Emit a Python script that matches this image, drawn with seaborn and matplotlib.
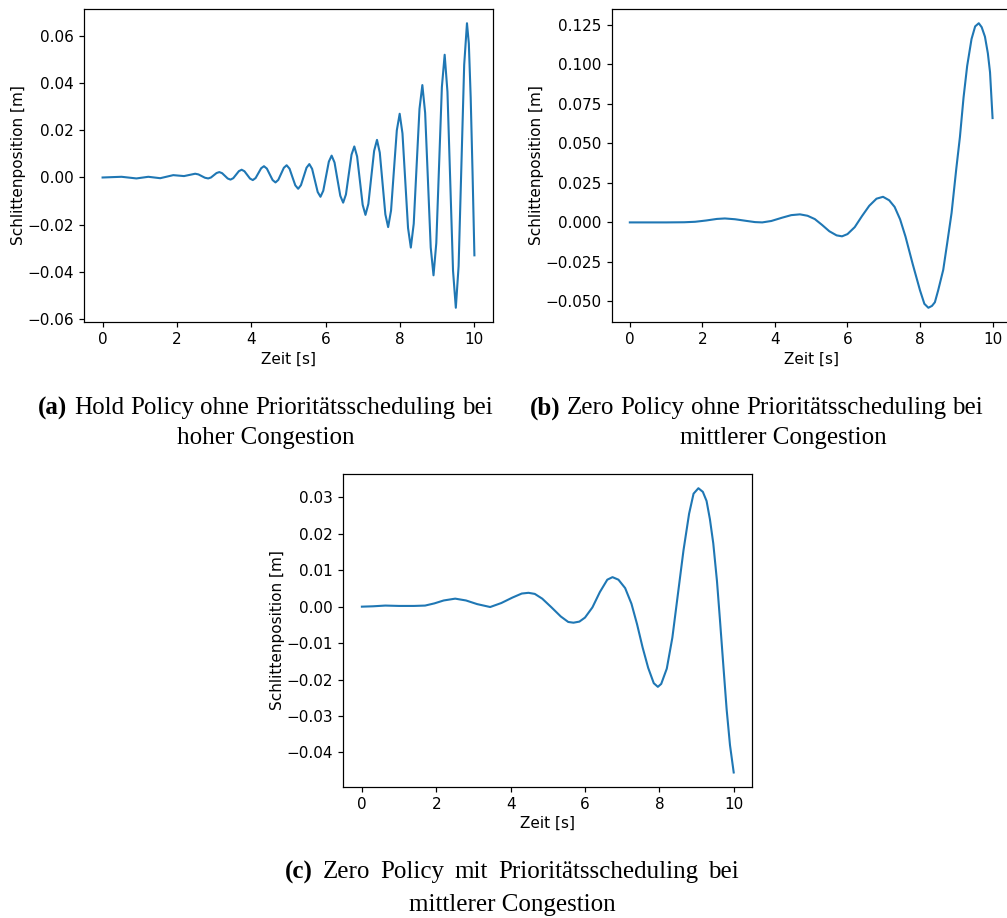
import numpy as np
import pandas as pd
import matplotlib
matplotlib.use("Agg")
import matplotlib.pyplot as plt
import matplotlib.ticker as mticker
import seaborn as sns
from matplotlib.offsetbox import TextArea, HPacker, AnnotationBbox

# ---------------------------------------------------------------------------
# Carriage position over time, three simulation runs
# ---------------------------------------------------------------------------
hold_t = [0.00, 0.255, 0.51, 0.71, 0.91, 1.07, 1.23, 1.39, 1.55, 1.725, 1.90,
          2.045, 2.19, 2.34, 2.49, 2.578, 2.665, 2.753, 2.84, 2.915, 2.99,
          3.065, 3.14, 3.215, 3.29, 3.365, 3.44, 3.515, 3.59, 3.665, 3.74,
          3.815, 3.89, 3.965, 4.04, 4.115, 4.19, 4.265, 4.34, 4.418, 4.495,
          4.573, 4.65, 4.725, 4.80, 4.875, 4.95, 5.028, 5.105, 5.183, 5.26,
          5.335, 5.41, 5.485, 5.56, 5.635, 5.71, 5.785, 5.86, 5.935, 6.01,
          6.085, 6.16, 6.238, 6.315, 6.393, 6.47, 6.545, 6.62, 6.695, 6.77,
          6.845, 6.92, 6.995, 7.07, 7.148, 7.225, 7.303, 7.38, 7.455, 7.53,
          7.605, 7.68, 7.758, 7.835, 7.913, 7.99, 8.065, 8.14, 8.215, 8.29,
          8.368, 8.445, 8.523, 8.60, 8.675, 8.75, 8.825, 8.90, 8.975, 9.05,
          9.125, 9.20, 9.275, 9.35, 9.425, 9.50, 9.575, 9.65, 9.725, 9.80,
          9.85, 9.90, 9.95, 10.00]
hold_pos = [0.0, 0.00015, 0.0003, -0.00005, -0.0004, -0.00005, 0.0003, 0.0,
            -0.0003, 0.00035, 0.0010, 0.0008, 0.0006, 0.0011, 0.0016, 0.00131,
            0.0006, -0.00011, -0.0004, 0.0, 0.00095, 0.0019, 0.0023, 0.00183,
            0.0007, -0.00043, -0.0009, -0.00029, 0.0012, 0.00269, 0.0033,
            0.00266, 0.0011, -0.00046, -0.0011, -0.00024, 0.00185, 0.00394,
            0.0048, 0.00379, 0.00135, -0.00109, -0.0021, -0.00103, 0.00155,
            0.00413, 0.0052, 0.00374, 0.0002, -0.00334, -0.0048, -0.00326,
            0.00045, 0.00416, 0.0057, 0.00367, -0.00125, -0.00617, -0.0082,
            -0.00564, 0.00055, 0.00674, 0.0093, 0.00637, -0.0007, -0.00777,
            -0.0107, -0.0072, 0.00125, 0.0097, 0.0132, 0.00894, -0.00135,
            -0.01164, -0.0159, -0.01123, 0.00005, 0.01133, 0.0160, 0.01057,
            -0.00255, -0.01567, -0.0211, -0.01404, 0.0030, 0.02004, 0.0271,
            0.01877, -0.00135, -0.02147, -0.0298, -0.01968, 0.00475, 0.02918,
            0.0393, 0.02746, -0.00115, -0.02976, -0.0416, -0.02787, 0.0053,
            0.03847, 0.0522, 0.03645, -0.0016, -0.03965, -0.0554, -0.03769,
            0.0051, 0.04789, 0.0656, 0.0570, 0.0340, 0.0020, -0.0331]

zero_t = [0.0, 0.5, 1.0, 1.5, 1.8, 2.1, 2.4, 2.62, 2.9, 3.2, 3.45, 3.65, 3.9,
          4.2, 4.45, 4.69, 4.9, 5.1, 5.3, 5.5, 5.7, 5.85, 6.0, 6.2, 6.4, 6.6,
          6.8, 6.98, 7.15, 7.3, 7.45, 7.6, 7.8, 8.0, 8.12, 8.23, 8.33, 8.41,
          8.5, 8.64, 8.75, 8.87, 9.0, 9.1, 9.2, 9.3, 9.42, 9.52, 9.62, 9.7,
          9.79, 9.87, 9.93, 10.0]
zero_pos = [0.0, 0.0, 0.0, 0.0001, 0.0004, 0.0012, 0.0022, 0.0025, 0.0020,
            0.0010, 0.0002, 0.0, 0.0009, 0.0030, 0.0046, 0.0051, 0.0042,
            0.0021, -0.0016, -0.0056, -0.0082, -0.0088, -0.0074, -0.0030,
            0.0040, 0.0105, 0.0150, 0.0162, 0.0140, 0.0098, 0.0020, -0.0090,
            -0.0265, -0.0430, -0.0515, -0.0540, -0.0528, -0.0505, -0.0430,
            -0.0300, -0.0130, 0.0060, 0.0340, 0.0540, 0.0790, 0.0990, 0.1160,
            0.1240, 0.1260, 0.1235, 0.1175, 0.1070, 0.0950, 0.0660]

prio_t = [0.0, 0.3, 0.63, 1.0, 1.4, 1.7, 1.95, 2.2, 2.51, 2.8, 3.1, 3.45,
          3.75, 4.05, 4.3, 4.48, 4.65, 4.85, 5.1, 5.35, 5.55, 5.69, 5.85, 6.0,
          6.2, 6.4, 6.6, 6.74, 6.9, 7.08, 7.25, 7.4, 7.55, 7.7, 7.85, 7.96,
          8.05, 8.2, 8.35, 8.5, 8.65, 8.8, 8.92, 9.05, 9.17, 9.27, 9.36, 9.45,
          9.55, 9.63, 9.72, 9.81, 9.9, 10.0]
prio_pos = [0.0, 0.0001, 0.0003, 0.0002, 0.0002, 0.0003, 0.0009, 0.0017,
            0.0022, 0.0017, 0.0007, -0.0001, 0.0010, 0.0025, 0.0036, 0.0038,
            0.0035, 0.0022, -0.0002, -0.0027, -0.0042, -0.0044, -0.0041,
            -0.0030, -0.0002, 0.0040, 0.0074, 0.0081, 0.0074, 0.0051, 0.0008,
            -0.0048, -0.0112, -0.0168, -0.0210, -0.0220, -0.0212, -0.0170,
            -0.0085, 0.0035, 0.0155, 0.0255, 0.0310, 0.0325, 0.0315, 0.0290,
            0.0240, 0.0174, 0.0070, -0.0036, -0.0160, -0.0282, -0.0380,
            -0.0455]

x_label = "Zeit [s]"
y_label = "Schlittenposition [m]"
x_ticks = [0, 2, 4, 6, 8, 10]
zero_y_ticks = [-0.050, -0.025, 0.0, 0.025, 0.050, 0.075, 0.100, 0.125]

captions = [
    ("(a)", "Hold Policy ohne Prioritätsscheduling bei", "hoher Congestion"),
    ("(b)", "Zero Policy ohne Prioritätsscheduling bei", "mittlerer Congestion"),
    ("(c)", "Zero Policy mit Prioritätsscheduling bei", "mittlerer Congestion"),
]

# ---------------------------------------------------------------------------
plt.rcParams.update({
    "font.family": ["DejaVu Sans"],
    "font.size": 11,
    "axes.linewidth": 0.88,
    "xtick.major.size": 3.85,
    "ytick.major.size": 3.85,
    "xtick.major.width": 0.88,
    "ytick.major.width": 0.88,
})

W, H = 1007, 918
fig = plt.figure(figsize=(W / 100, H / 100), dpi=100)


def px_axes(left, top, right, bottom):
    return fig.add_axes([left / W, 1 - bottom / H, (right - left) / W,
                         (bottom - top) / H])


def minus_fmt(decimals):
    return mticker.FuncFormatter(
        lambda v, _: f"{v:.{decimals}f}".replace("-", "\u2212"))


panels = [
    (px_axes(84, 9, 493, 322), hold_t, hold_pos, 2),
    (px_axes(611.7, 9, 1010.7, 322), zero_t, zero_pos, 3),
    (px_axes(343.3, 474, 752.3, 786.7), prio_t, prio_pos, 2),
]

for ax, t, pos, dec in panels:
    df = pd.DataFrame({"t": t, "pos": pos})
    sns.lineplot(data=df, x="t", y="pos", ax=ax, color="#1f77b4",
                 linewidth=1.5, errorbar=None, sort=False)
    ax.set_xlabel(x_label, fontsize=11, labelpad=3)
    ax.set_ylabel(y_label, fontsize=11, labelpad=1)
    ax.set_xticks(x_ticks)
    ax.margins(x=0.05, y=0.05)
    ax.yaxis.set_major_formatter(minus_fmt(dec))

panels[1][0].set_yticks(zero_y_ticks)

# Captions below each panel: bold label followed by the regular serif words,
# spread to the caption width like a justified first line
serif = "Liberation Serif"
cap_size = 18
# (anchor x, alignment of first line, y of line 1, word gap, x/y of line 2)
cap_layout = [
    (265.5, 0.5, 408, 4.5, 265.5, 438),
    (530, 0.0, 408, 4.5, 783, 438),
    (512, 0.5, 872, 7.3, 512, 905),
]
for (tag, line1, line2), (cx, ha, y1, gap, cx2, y2) in zip(captions,
                                                            cap_layout):
    words = [TextArea(tag, textprops=dict(family=serif, size=cap_size,
                                          weight="bold"))]
    words += [TextArea(w, textprops=dict(family=serif, size=cap_size))
              for w in line1.split()]
    row = HPacker(children=words, align="baseline", pad=0, sep=gap)
    ab = AnnotationBbox(row, (cx, H - y1), xycoords="figure pixels",
                        box_alignment=(ha, 0.5), frameon=False)
    fig.add_artist(ab)
    fig.text(cx2 / W, 1 - y2 / H, line2, family=serif, size=cap_size,
             ha="center", va="center")

fig.savefig("out.png", dpi=100)
